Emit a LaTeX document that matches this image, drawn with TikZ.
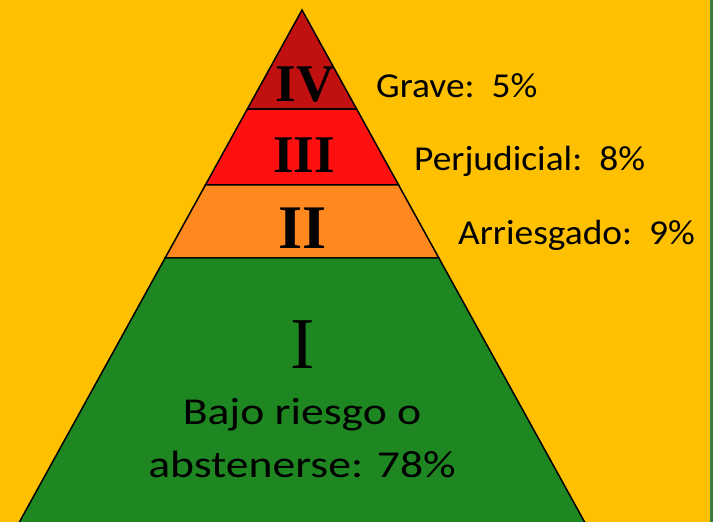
\documentclass[tikz,border=0pt]{standalone}
\usepackage{fontspec}
\setmainfont{Carlito}
\newfontfamily\romanfont{Liberation Serif}
\newfontfamily\labelfont[FakeStretch=1.07]{Carlito}
\newfontfamily\widefont[FakeStretch=1.2]{Carlito}
\usetikzlibrary{calc,positioning}

\definecolor{bgyellow}{RGB}{255,192,0}
\definecolor{edgegreen}{RGB}{61,125,60}
\definecolor{levelfour}{RGB}{192,16,16}
\definecolor{levelthree}{RGB}{255,16,16}
\definecolor{leveltwo}{RGB}{255,137,30}
\definecolor{levelone}{RGB}{30,135,34}

\tikzset{
  band/.style={draw=black, line width=1.5pt, line join=miter},
  numeral/.style={font=\romanfont\bfseries\fontsize{#1}{#1}\selectfont, inner sep=0pt},
  riskname/.style={font=\labelfont\fontsize{35}{35}\selectfont, anchor=base west, inner sep=0pt}
}

\begin{document}
\begin{tikzpicture}[x=1pt, y=-1pt]
        \useasboundingbox (0, 0) rectangle (713, 522);
        \fill[bgyellow] (0, 0) rectangle (713, 522);
        \fill[edgegreen] (710, 0) rectangle (713, 522);

        \begin{scope}
        \clip (0, 0) rectangle (713, 522);
        \coordinate (top) at (302, 10);
        \coordinate (baseleft) at (15, 530);
        \coordinate (baseright) at (589, 530);

        % level boundaries, as fractions of the way down the sides
        \foreach \lvl/\t in {one/0.1904, two/0.3365, three/0.4769} {
                \coordinate (\lvl-left) at ($(top)!\t!(baseleft)$);
                \coordinate (\lvl-right) at ($(top)!\t!(baseright)$);
        }

        \filldraw[band, fill=levelfour] (top) -- (one-right) -- (one-left) -- cycle;
        \filldraw[band, fill=levelthree] (one-left) -- (one-right) -- (two-right) -- (two-left) -- cycle;
        \filldraw[band, fill=leveltwo] (two-left) -- (two-right) -- (three-right) -- (three-left) -- cycle;
        \filldraw[band, fill=levelone] (three-left) -- (three-right) -- (baseright) -- (baseleft) -- cycle;
        \end{scope}

        \node[numeral=53] (four) at (305, 85) {IV};
        \node[numeral=53] (three) at (304, 155) {III};
        \node[numeral=62] (two) at (303, 228) {II};
        \node[inner sep=0pt, font=\romanfont\fontsize{73}{73}\selectfont] (one) at (303, 345) {I};

        \node[riskname] (grave) at (376, 97) {Grave:\ \ 5\%};
        \node[riskname] (perj) at (414, 170) {Perjudicial:\ \ 8\%};
        \node[riskname] (arri) at (458, 244) {Arriesgado:\ \ 9\%};

        \node[font=\widefont\fontsize{38}{53}\selectfont, align=center, anchor=base]
                (lowrisk) at (302, 477) {Bajo riesgo o\\abstenerse: 78\%};
\end{tikzpicture}
\end{document}
